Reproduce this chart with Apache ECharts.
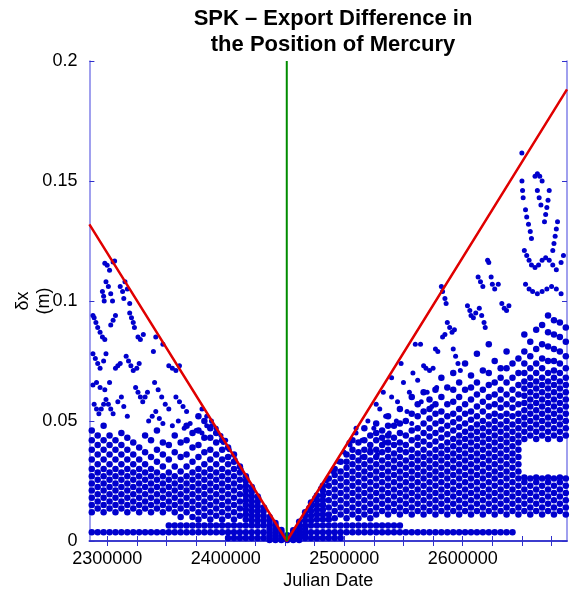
<!DOCTYPE html>
<html>
<head>
<meta charset="utf-8">
<title>SPK export difference - Mercury</title>
<script src="https://cdn.jsdelivr.net/npm/echarts@6/dist/echarts.min.js"></script>
<style>
  html, body { margin: 0; padding: 0; background: #fff; }
  #chart { width: 572px; height: 591px; }
</style>
</head>
<body>
<div id="chart"></div>
<script>
// sample columns (Julian Date) and the differences seen in each column, in mm
const colJD = [
  2287000,2292000,2297000,2302000,2307000,2312000,2317000,2322000,2327000,2332000,
  2337000,2342000,2347000,2352000,2357000,2362000,2367000,2372000,2377000,2382000,
  2387000,2392000,2397000,2402000,2407000,2412000,2417000,2422000,2427000,2432000,
  2437000,2442000,2447000,2452000,2457000,2462000,2467000,2472000,2477000,2482000,
  2487000,2492000,2497000,2502000,2507000,2512000,2517000,2522000,2527000,2532000,
  2537000,2542000,2547000,2552000,2557000,2562000,2567000,2572000,2577000,2582000,
  2587000,2592000,2597000,2602000,2607000,2612000,2617000,2622000,2627000,2632000,
  2637000,2642000,2647000,2652000,2657000,2662000,2667000,2672000,2677000,2682000,
  2687000
];
const colDx = [
  [3.6,12,15,18,21,24,27,30,34,38,42,46],
  [3.6,13.5,16.5,19.5,22.5,25.5,28.5,32,36,40,44],
  [3.6,12,15,18,21,24,27,30,34,38,42,48],
  [3.6,13.5,16.5,19.5,22.5,25.5,28.5,32,36,40,44],
  [3.6,12,15,18,21,24,27,30,34,38,42],
  [3.6,13.5,16.5,19.5,22.5,25.5,28.5,32,36,40,45],
  [3.6,12,15,18,21,24,27,30,34,38,43],
  [3.6,13.5,16.5,19.5,22.5,25.5,28.5,32,36,41],
  [3.6,12,15,18,21,24,27,30,34,39],
  [3.6,13.5,16.5,19.5,22.5,25.5,28.5,32,37,44],
  [3.6,12,15,18,21,24,27,30,35,42],
  [3.6,13.5,16.5,19.5,22.5,25.5,28.5,33,38,46],
  [3.6,12,15,18,21,24,27,31,36,41],
  [3.6,6.5,13.5,16.5,19.5,22.5,25.5,28.5,34,40],
  [3.6,6.5,12,15,18,21,24,27,31,37,44],
  [3.6,6.5,10,13.5,16.5,19.5,22.5,25.5,29,35,41],
  [3.6,6.5,12,15,18,21,24,27,31,36,42,48],
  [3.6,6.5,10,13.5,16.5,19.5,22.5,25.5,28.5,33,39,45],
  [3.6,6.5,9,12,15,18,21,24,27,30,35,40,46,52],
  [3.6,6.5,10.5,13.5,16.5,19.5,22.5,25.5,28.5,32,37,43,50],
  [3.6,6.5,9,12,15,18,21,24,27,30,34,38,43,47],
  [3.6,6.5,10.5,13.5,16.5,19.5,22.5,25.5,28.5,32,36,41,45],
  [3.6,6.5,9,12,15,18,21,24,27,30,34,38,42],
  [1.2,3.6,6.5,10.5,13.5,16.5,19.5,22.5,25.5,28.5,32,35,39],
  [1.2,3.6,6.5,9,12,15,18,21,24,27,30,33,36],
  [1.2,3.6,6.5,10.5,13.5,16.5,19.5,22.5,25.5,28.5,31],
  [1.2,3.6,6.5,9,11,13,15,17,19,21,23,25,27],
  [1.2,3.6,6.5,8.5,10.5,12.5,14.5,16.5,18.5,20.5,22.5],
  [1.2,3.6,6.5,8.5,10.5,12.5,14.5,16.5,18.5],
  [1.2,3.6,6.5,8.5,10.5,12.5,14],
  [0.4,1.2,2.4,3.6,5,6.5,8.5,10],
  [0.4,1.2,2.4,3.6,5,6.5,7.5],
  [0.4,1.2,2.4,3.6,4.6],
  [0.4,1.2,2.4],
  [0.4,1.2,2.4,3.6,4.5],
  [0.4,1.2,2.4,3.6,5,6.5,8],
  [1.2,2.4,3.6,5,6.5,8.5,10.5,12],
  [1.2,3.6,6.5,8.5,10.5,12.5,14.5,16],
  [1.2,3.6,6.5,9,11,13,15,17,19],
  [1.2,3.6,6.5,9,11,13,15,17,19,21,23],
  [1.2,3.6,6.5,9,11,14,17,20,23,26],
  [1.2,3.6,6.5,9.5,12.5,15.5,18.5,21.5,24.5,27.5,30],
  [1.2,3.6,6.5,11,14,17,20,23,26,29,33],
  [3.6,6.5,9.5,12.5,15.5,18.5,21.5,24.5,27.5,30.5,33,36],
  [3.6,6.5,11,14,17,20,23,26,29,32,35,38,42],
  [3.6,6.5,9.5,12.5,15.5,18.5,21.5,24.5,27.5,30.5,33.5,37,41],
  [3.6,6.5,11,14,17,20,23,26,29,32,35,38,42,47],
  [3.6,6.5,9.5,12.5,15.5,18.5,21.5,24.5,27.5,30.5,33.5,37,40,44],
  [3.6,6.5,11,14,17,20,23,26,29,32,35,38,42,45,49],
  [3.6,6.5,12.5,15.5,18.5,21.5,24.5,27.5,30.5,33.5,37,40,43,46],
  [3.6,6.5,11,14,17,20,23,26,29,32,35,38,41,44,48,52],
  [3.6,6.5,12.5,15.5,18.5,21.5,24.5,27.5,30.5,33.5,36.5,40,43,48],
  [3.6,6.5,11,14,17,20,23,26,29,32,35,38,41,45,49,55],
  [3.6,12.5,15.5,18.5,21.5,24.5,27.5,30.5,33.5,37,40,44,50],
  [3.6,11,14,17,20,23,26,29,32,35,38,42,46,53,60],
  [3.6,12.5,15.5,18.5,21.5,24.5,27.5,30.5,33.5,36.5,40,43,47,52,57],
  [3.6,11,14,17,20,23,26,29,32,35,38,41.5,45,49,54,62],
  [3.6,12.5,15.5,18.5,21.5,24.5,27.5,30.5,33.5,36.5,40,43.5,47,51,55,59],
  [3.6,11,14,17,20,23,26,29,32,35,38,41.5,45,49,53,57,63],
  [3.6,12.5,15.5,18.5,21.5,24.5,27.5,30.5,33.5,36.5,39.5,43,46.5,50,54,60,68],
  [3.6,11,14,17,20,23,26,29,32,35,38,41,44.5,48,52,57,64],
  [3.6,12.5,15.5,18.5,21.5,24.5,27.5,30.5,33.5,36.5,39.5,42.5,46,49.5,53,58,63,70],
  [3.6,11,14,17,20,23,26,29,32,35,38,41,44,47.5,51,55,60,66],
  [3.6,12.5,15.5,18.5,21.5,24.5,27.5,30.5,33.5,36.5,39.5,42.5,45.5,49,53,57,63,74],
  [3.6,11,14,17,20,23,26,29,32,35,38,41,44,47,50.5,54,59,64,69],
  [3.6,12.5,15.5,18.5,21.5,24.5,27.5,30.5,33.5,36.5,39.5,42.5,45.5,48.5,52,56,61,66,78],
  [3.6,11,14,17,20,23,26,29,32,35,38,41,44,47,50,54,58,63,71],
  [3.6,12.5,15.5,18.5,21.5,24.5,27.5,30.5,33.5,36.5,39.5,42.5,45.5,48.5,52,56,60,65,70,82],
  [3.6,11,14,17,20,23,26,29,32,35,38,41,44,47,50,53,57,61,66,75],
  [3.6,12.5,15.5,18.5,21.5,24.5,27.5,30.5,33.5,36.5,39.5,42.5,45.5,48.5,52,55.5,59,63,68,72],
  [3.6,11,14,17,20,23,26,29,32,35,38,41,44,47,50,53,57,61,66,72,79],
  [3.6,12.5,15.5,18.5,21.5,24.5,27.5,30.5,33.5,36.5,39.5,42.5,45.5,48.5,52,55.5,59,63,68,74],
  [11,14,17,20,23,26,29,32,35,38,41,44,47,50,53,57,61,65,70,76],
  [12.5,15.5,18.5,21.5,24.5,26.5,42.5,45.5,48.5,51.5,54.5,57.5,60.5,63.5,66.5,70,74,79,86],
  [11,14,17,20,23,26,44,47,50,53,56,59,62,65,68,72,77,83],
  [12.5,15.5,18.5,21.5,24.5,26.5,42.5,45.5,48.5,51.5,54.5,57.5,60.5,63.5,66.5,70,74,80,88],
  [11,14,17,20,23,26,44,47,50,53,56,59,62,65,68,72,76,82,90],
  [12.5,15.5,18.5,21.5,24.5,26.5,42.5,45.5,48.5,51.5,54.5,57.5,60.5,63.5,66.5,70,75,81,87,94],
  [11,14,17,20,23,26,44,47,50,53,56,59,62,65,68,71,75,80,86,92],
  [12.5,15.5,18.5,21.5,24.5,26.5,42.5,45.5,48.5,51.5,54.5,57.5,60.5,63.5,66.5,70,74,79,85,91],
  [11,14,17,20,23,26,44,47,50,53,56,59,62,65,68,72,77,83,89]
];

// scattered outliers above the dense bands (JD, mm)
const looseJD = [
  2298000,2300000,2302000,2305000,2306300,2299000,2301000,2303000,2304500,
  2311000,2313000,2315000,2317000,2314000,2319000,2296000,2297000,2297500,
  2288000,2289000,2290500,2292000,2294000,2296000,2298000,2303000,2305000,2307000,
  2319000,2320500,2322000,2323000,2326000,2328000,2330500,2341000,2347000,2339000,
  2288000,2290000,2292000,2294000,2297000,2299000,2307000,2309000,2311000,
  2316000,2318000,2320000,2322000,2325000,2327000,2352000,2355000,2358000,2361000,
  2288000,2291000,2294000,2298000,2302000,
  2289000,2291000,2293000,2295000,2297000,2299000,2301000,2303000,2305000,2309000,2312000,2314000,2317000,
  2324000,2326000,2328000,2330000,2332000,2334000,2340000,2343000,2346000,2349000,2352000,
  2358000,2361000,2364000,2367000,2335000,2338000,2341000,2344000,2347000,
  2355000,2360000,2365000,2370000,2375000,2380000,2384000,2388000,2392000,2396000,2400000,
  2380000,2384000,2388000,2393000,2398000,2403000,2408000,2413000,2418000,2423000,2428000,2433000,
  2470000,2475000,2480000,2485000,2490000,2495000,2500000,2504000,2510000,
  2505000,2510000,2515000,2520000,2525000,2530000,2535000,2540000,2545000,2550000,2555000,2558000,2562000,2548000,2540000,2533000,2527000,
  2515000,2522000,2528000,2534000,2538000,2544000,2553000,2557000,2565000,2570000,2574000,2578000,
  2564400,2567000,2569000,2572000,2575000,2577000,2579000,2592000,2594000,2596000,2598000,
  2560000,2583000,2585000,2587000,2589000,2591000,2593000,
  2582000,2583000,2585000,2586000,2604000,2606000,2607000,2609000,2611000,
  2614000,2616000,2618000,2619000,2633000,2635000,2637000,2639000,
  2613000,2615000,2617000,2624000,2625000,2627000,2630000,2621000,2622000,
  2653000,2656000,2659000,2663000,2667000,2671000,2675000,2679000,2683000,
  2652000,2654000,2656000,2658000,2661000,2664000,2667000,2670000,2673000,2676000,2679000,2683000,2685000,
  2653000,2654000,2655500,2657000,2658000,2680000,2679000,2678000,2677000,2676000,
  2673000,2672000,2671000,2670000,2669000,2663000,2664500,2666000,
  2661000,2663000,2665000,2667000,2650000,2650500,2651000,2649900
];
const looseDx = [
  115.7,114.9,112.8,116.3,116.7,108,106,103,100,
  106,104,108,105,101,99,104,102,100,
  94,93,91,89,87,85,84,90,92,94,
  95,93,91,89,85,84,86,85,82,79,
  78,76,74,72,75,78,72,73,74,
  77,75,73,71,72,74,73,72,71,73,
  65,66,64,63,66,
  57,55,53,55,57,59,57,55,53,58,60,56,52,
  64,62,60,58,60,62,66,63,60,57,55,
  60,58,56,54,50,52,54,51,49,
  48,50,47,49,46,45,48,50,47,44,42,
  55,52,48,45,41,38,34,30,26,22,18,14,
  14,18,22,25,29,33,37,41,47,
  40,45,42,50,47,55,52,60,58,66,62,70,67,74,68,62,57,
  35,38,36,41,45,50,54,49,58,62,56,64,
  82,73,72,71,72,80,79,80,77,74,71,
  82,85,86,91,89,87,88,
  106,104,101,99,98,96,94,93,95,
  97,94,91,89,99,97,96,98,
  110,108,106,110,107,105,107,117,116,
  107,105,104,103,104,105,106,105,103,
  121,119,117,115,114,115,117,118,117,115,113,116,119,
  138,135,132,129,126,133,130,127,124,121,
  146,142,139,136,133,146,143,140,
  152,153,152,150,150,146,143,161.7
];

// red envelope lines and the epoch (J2000) marker
const envJD = [2285000, 2451545, 2688000];
const envDx = [0.1319, 0, 0.1882];
const epochJD = 2451545;

const xLabelTicks = [2300000, 2400000, 2500000, 2600000];
const xMinorTicks = [2300000,2325000,2350000,2375000,2400000,2425000,2450000,2475000,
  2500000,2525000,2550000,2575000,2600000,2625000,2650000,2675000];

const densePoints = [];
colJD.forEach((jd, i) => colDx[i].forEach(v => densePoints.push([jd, v / 1000])));
const loosePoints = looseJD.map((jd, i) => [jd, looseDx[i] / 1000]);

const font = "'Liberation Sans', Arial, sans-serif";
const frameDark = '#3030cc';
const frameLight = '#8080e8';
const dotColor = '#0000cd';

const chart = echarts.init(document.getElementById('chart'));
chart.setOption({
  animation: false,
  title: {
    text: 'SPK \u2013 Export Difference in\nthe Position of Mercury',
    left: 328,
    textAlign: 'center',
    top: 1,
    textStyle: { fontFamily: font, fontSize: 22, fontWeight: 'bold', color: '#000', lineHeight: 26 }
  },
  grid: { left: 89.4, right: 5, top: 61, bottom: 50, outerBoundsMode: 'none' },
  xAxis: [{
    type: 'value', min: 2285000, max: 2688000,
    name: 'Julian Date', nameLocation: 'middle', nameGap: 31, nameMoveOverlap: false,
    nameTextStyle: { fontFamily: font, fontSize: 18, color: '#000' },
    axisLine: { lineStyle: { color: frameDark, width: 1.5 } },
    axisTick: { inside: true, length: 5, customValues: xMinorTicks, lineStyle: { color: frameDark } },
    axisLabel: { customValues: xLabelTicks, formatter: v => String(v), fontFamily: font, fontSize: 18, color: '#000', margin: 9 },
    splitLine: { show: false }
  }, {
    type: 'value', position: 'top', min: 2285000, max: 2688000,
    axisLine: { lineStyle: { color: frameDark, width: 1.5 } },
    axisTick: { inside: true, length: 5, customValues: xMinorTicks, lineStyle: { color: frameDark } },
    axisLabel: { show: false },
    splitLine: { show: false }
  }],
  yAxis: [{
    type: 'value', min: 0, max: 0.2, interval: 0.05,
    name: '\u03b4x\n(m)', nameLocation: 'middle', nameRotate: 90, nameGap: 35, nameMoveOverlap: false,
    nameTextStyle: { fontFamily: font, fontSize: 18, color: '#000', lineHeight: 21 },
    axisLine: { lineStyle: { color: frameLight, width: 1.5 } },
    axisTick: { inside: true, length: 5, lineStyle: { color: frameDark } },
    axisLabel: { fontFamily: font, fontSize: 18, color: '#000', margin: 12 },
    splitLine: { show: false }
  }, {
    type: 'value', position: 'right', min: 0, max: 0.2, interval: 0.05,
    axisLine: { lineStyle: { color: frameLight, width: 1.5 } },
    axisTick: { inside: true, length: 5, lineStyle: { color: frameDark } },
    axisLabel: { show: false },
    splitLine: { show: false }
  }],
  series: [{
    type: 'scatter',
    data: densePoints,
    symbolSize: 6.5,
    itemStyle: { color: dotColor, opacity: 1 },
    silent: true
  }, {
    type: 'scatter',
    data: loosePoints,
    symbolSize: 5,
    itemStyle: { color: dotColor, opacity: 1 },
    silent: true
  }, {
    type: 'line',
    data: envJD.map((jd, i) => [jd, envDx[i]]),
    symbol: 'none',
    lineStyle: { color: '#e00000', width: 2.5 },
    z: 5
  }, {
    type: 'line',
    data: [[epochJD, 0], [epochJD, 0.2]],
    symbol: 'none',
    lineStyle: { color: '#008c00', width: 2 },
    z: 5
  }]
});
</script>
</body>
</html>
